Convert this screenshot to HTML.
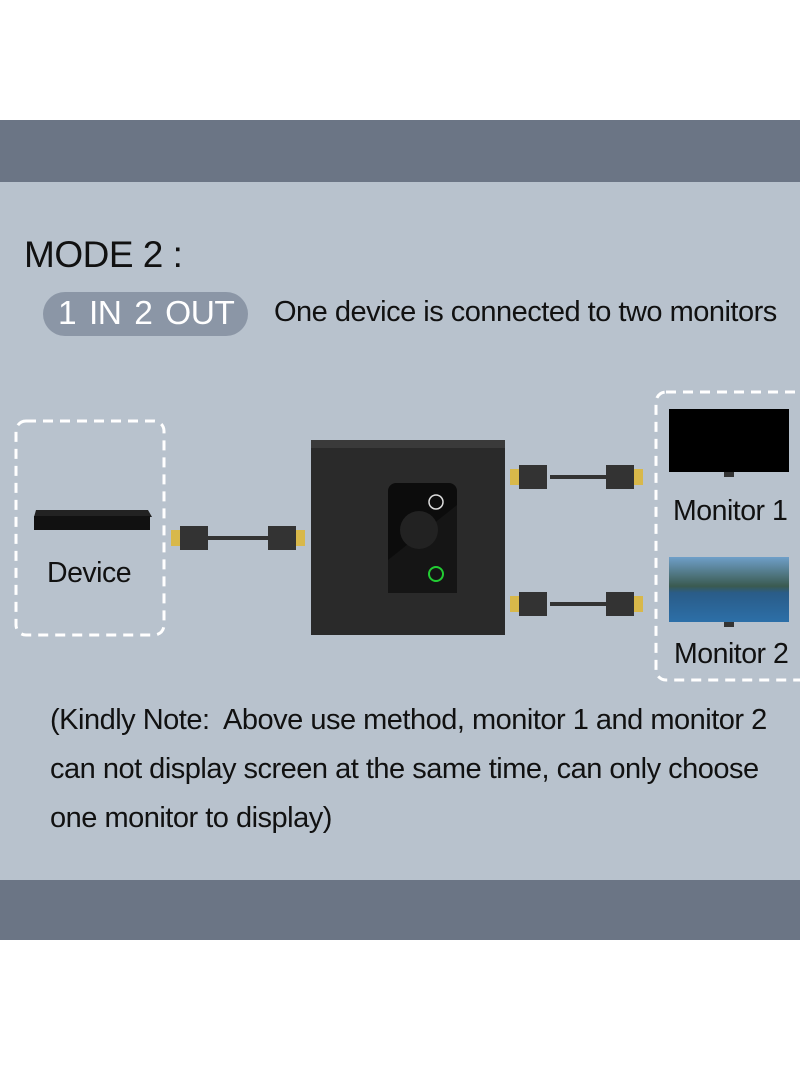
<!DOCTYPE html>
<html><head><meta charset="utf-8"><style>
body{margin:0;width:800px;height:1091px;background:#fff;position:relative;overflow:hidden;font-family:"Liberation Sans",sans-serif;}
.band{position:absolute;left:0;width:800px;background:#6b7585;}
.main{position:absolute;left:0;top:182px;width:800px;height:698px;background:#b8c2cd;}
.t{position:absolute;color:#111;white-space:nowrap;letter-spacing:-0.5px}
</style></head><body>
<div class="band" style="top:120px;height:62px"></div>
<div class="main"></div>
<div class="band" style="top:880px;height:60px"></div>
<div class="t" style="left:24px;top:234px;font-size:37px">MODE 2 :</div>
<div style="position:absolute;left:43px;top:292px;width:205px;height:44px;border-radius:22px;background:#8b96a6"></div>
<div class="t" style="left:58px;top:295px;font-size:33.5px;color:#fff;word-spacing:4px">1 IN 2 OUT</div>
<div class="t" style="left:274px;top:296px;font-size:29px">One device is connected to two monitors</div>
<svg width="800" height="1091" style="position:absolute;left:0;top:0">
<rect x="16" y="421" width="148" height="214" rx="10" fill="none" stroke="#fff" stroke-width="3" stroke-dasharray="10 7"/>
<rect x="656" y="392" width="160" height="288" rx="10" fill="none" stroke="#fff" stroke-width="3" stroke-dasharray="10 7"/>
<rect x="311" y="440" width="194" height="195" fill="#2a2a2a"/>
<rect x="311" y="440" width="194" height="8" fill="#3a3a3a"/>
<rect x="388" y="483" width="69" height="110" rx="8" fill="#0c0c0c"/>
<polygon points="388,560 457,505 457,593 388,593" fill="#151515"/>
<circle cx="419" cy="530" r="19" fill="#222"/>
<circle cx="436" cy="502" r="7" fill="none" stroke="#ddd" stroke-width="1.5"/>
<circle cx="436" cy="574" r="7" fill="none" stroke="#22cc33" stroke-width="2"/>
<polygon points="36,510 148,510 152,517 34,517" fill="#222"/>
<rect x="34" y="516" width="116" height="14" fill="#111"/>
<g stroke="#333">
<line x1="200" y1="538" x2="280" y2="538" stroke-width="4"/>
<line x1="550" y1="477" x2="610" y2="477" stroke-width="4"/>
<line x1="550" y1="604" x2="610" y2="604" stroke-width="4"/>
</g>
<g fill="#333">
<rect x="180" y="526" width="28" height="24"/><rect x="268" y="526" width="28" height="24"/>
<rect x="519" y="465" width="28" height="24"/><rect x="606" y="465" width="28" height="24"/>
<rect x="519" y="592" width="28" height="24"/><rect x="606" y="592" width="28" height="24"/>
</g>
<g fill="#d8b84a">
<rect x="171" y="530" width="9" height="16"/><rect x="296" y="530" width="9" height="16"/>
<rect x="510" y="469" width="9" height="16"/><rect x="634" y="469" width="9" height="16"/>
<rect x="510" y="596" width="9" height="16"/><rect x="634" y="596" width="9" height="16"/>
</g>
<rect x="669" y="409" width="120" height="63" fill="#000"/>
<rect x="724" y="472" width="10" height="5" fill="#333"/>
<defs><linearGradient id="g" x1="0" y1="0" x2="0" y2="1"><stop offset="0" stop-color="#6f9fc9"/><stop offset="0.45" stop-color="#3a5a50"/><stop offset="0.55" stop-color="#2a5c88"/><stop offset="1" stop-color="#2c6fa8"/></linearGradient></defs>
<rect x="669" y="557" width="120" height="65" fill="url(#g)"/>
<rect x="724" y="622" width="10" height="5" fill="#333"/>
</svg>
<div class="t" style="left:47px;top:557px;font-size:28.5px">Device</div>
<div class="t" style="left:673px;top:495px;font-size:28.5px">Monitor 1</div>
<div class="t" style="left:674px;top:638px;font-size:28.5px">Monitor 2</div>
<div class="t" style="left:50px;top:696px;font-size:29px;line-height:49px">(Kindly Note:&nbsp; Above use method, monitor 1 and monitor 2<br>can not display screen at the same time, can only choose<br>one monitor to display)</div>
</body></html>
